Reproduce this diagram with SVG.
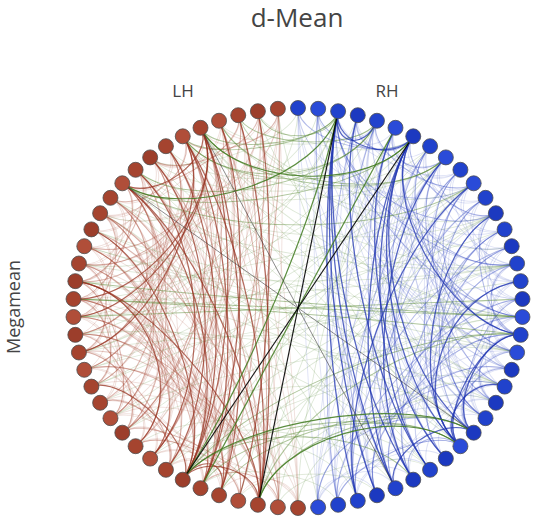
<svg xmlns="http://www.w3.org/2000/svg" width="534" height="520" viewBox="0 0 534 520">
<style>
text{font-family:"Open Sans","Liberation Sans",Arial,sans-serif;fill:#444}
.t{font-size:26px}
.h{font-size:17px}
.y{font-size:18px}
.e{fill:none}
.b1{stroke:#a3402b;stroke-opacity:.17;stroke-width:.0042}
.b2{stroke:#a3402b;stroke-opacity:.36;stroke-width:.0048}
.b3{stroke:#953220;stroke-opacity:.72;stroke-width:.0055}
.u1{stroke:#3348c0;stroke-opacity:.16;stroke-width:.0042}
.u2{stroke:#2a40c0;stroke-opacity:.36;stroke-width:.0048}
.u3{stroke:#1d33b0;stroke-opacity:.75;stroke-width:.0058}
.g1{stroke:#5c8a3a;stroke-opacity:.2;stroke-width:.0042}
.g2{stroke:#5a8a35;stroke-opacity:.48;stroke-width:.0048}
.g3{stroke:#3f7a1e;stroke-opacity:.85;stroke-width:.0055}
.gy{stroke:#333;stroke-opacity:.6;stroke-width:.004}
.k{stroke:#000;stroke-opacity:.9;stroke-width:.0052}
.lh{fill:#a5442f;stroke:#4d4d4d;stroke-width:.8}
.lh2{fill:#b04e39;stroke:#4d4d4d;stroke-width:.8}
.lh3{fill:#9c3e2b;stroke:#4d4d4d;stroke-width:.8}
.rh{fill:#2142cc;stroke:#4d4d4d;stroke-width:.8}
.rh2{fill:#2a4bd8;stroke:#4d4d4d;stroke-width:.8}
.rh3{fill:#1c39c0;stroke:#4d4d4d;stroke-width:.8}
</style>
<defs>
<path id="s1" d="M.999,-.0449C.8325,-.0374 .8325,.0374 .999,.0449"/>
<path id="s2" d="M.996,-.0896C.83,-.0747 .83,.0747 .996,.0896"/>
<path id="s3" d="M.991,-.1342C.8258,-.1119 .8258,.1119 .991,.1342"/>
<path id="s4" d="M.9839,-.1786C.8199,-.1488 .8199,.1488 .9839,.1786"/>
<path id="s5" d="M.9749,-.2225C.8124,-.1854 .8124,.1854 .9749,.2225"/>
<path id="s6" d="M.964,-.266C.8033,-.2217 .8033,.2217 .964,.266"/>
<path id="s7" d="M.9511,-.309C.7926,-.2575 .7926,.2575 .9511,.309"/>
<path id="s8" d="M.9362,-.3514C.7802,-.2928 .7802,.2928 .9362,.3514"/>
<path id="s9" d="M.9195,-.393C.613,-.262 .613,.262 .9195,.393"/>
<path id="s10" d="M.901,-.4339C.6007,-.2893 .6007,.2893 .901,.4339"/>
<path id="s11" d="M.8806,-.4739C.5871,-.3159 .5871,.3159 .8806,.4739"/>
<path id="s12" d="M.8585,-.5129C.5723,-.3419 .5723,.3419 .8585,.5129"/>
<path id="s13" d="M.8346,-.5509C.5564,-.3673 .5564,.3673 .8346,.5509"/>
<path id="s14" d="M.809,-.5878C.5394,-.3919 .5394,.3919 .809,.5878"/>
<path id="s15" d="M.7818,-.6235C.5212,-.4157 .5212,.4157 .7818,.6235"/>
<path id="s16" d="M.7531,-.6579C.5021,-.4386 .5021,.4386 .7531,.6579"/>
<path id="s17" d="M.7228,-.6911C.4819,-.4607 .4819,.4607 .7228,.6911"/>
<path id="s18" d="M.6911,-.7228C.3839,-.4016 .3839,.4016 .6911,.7228"/>
<path id="s19" d="M.6579,-.7531C.3655,-.4184 .3655,.4184 .6579,.7531"/>
<path id="s20" d="M.6235,-.7818C.3464,-.4344 .3464,.4344 .6235,.7818"/>
<path id="s21" d="M.5878,-.809C.3266,-.4495 .3266,.4495 .5878,.809"/>
<path id="s22" d="M.5509,-.8346C.3061,-.4637 .3061,.4637 .5509,.8346"/>
<path id="s23" d="M.5129,-.8585C.2849,-.4769 .2849,.4769 .5129,.8585"/>
<path id="s24" d="M.4739,-.8806C.2633,-.4892 .2633,.4892 .4739,.8806"/>
<path id="s25" d="M.4339,-.901C.241,-.5005 .241,.5005 .4339,.901"/>
<path id="s26" d="M.393,-.9195C.2184,-.5108 .2184,.5108 .393,.9195"/>
<path id="s27" d="M.3514,-.9362C.1673,-.4458 .1673,.4458 .3514,.9362"/>
<path id="s28" d="M.309,-.9511C.1472,-.4529 .1472,.4529 .309,.9511"/>
<path id="s29" d="M.266,-.964C.1267,-.459 .1267,.459 .266,.964"/>
<path id="s30" d="M.2225,-.9749C.106,-.4643 .106,.4643 .2225,.9749"/>
<path id="s31" d="M.1786,-.9839C.085,-.4685 .085,.4685 .1786,.9839"/>
<path id="s32" d="M.1342,-.991C.0639,-.4719 .0639,.4719 .1342,.991"/>
<path id="s33" d="M.0896,-.996C.0427,-.4743 .0427,.4743 .0896,.996"/>
<path id="s34" d="M.0449,-.999C.0214,-.4757 .0214,.4757 .0449,.999"/>
<path id="s35" d="M0,-1L0,1"/>
</defs>
<text class="t" x="297" y="27" text-anchor="middle">d-Mean</text>
<text class="h" x="183" y="97" text-anchor="middle">LH</text>
<text class="h" x="387" y="97" text-anchor="middle">RH</text>
<text class="y" transform="translate(19.5,307) rotate(-90)" text-anchor="middle">Megamean</text>
<g id="connectors" class="e" transform="translate(298,308) scale(224.7,-200)">
<g class="b1">
<use href="#s9" transform="rotate(118.29)"/><use href="#s14" transform="rotate(131.14)"/><use href="#s19" transform="rotate(144)"/><use href="#s24" transform="rotate(156.86)"/><use href="#s10" transform="rotate(126)"/><use href="#s16" transform="rotate(141.43)"/><use href="#s22" transform="rotate(156.86)"/><use href="#s33" transform="rotate(185.14)"/><use href="#s11" transform="rotate(133.71)"/><use href="#s17" transform="rotate(149.14)"/><use href="#s23" transform="rotate(164.57)"/><use href="#s5" transform="rotate(118.29)"/><use href="#s8" transform="rotate(131.14)"/><use href="#s15" transform="rotate(149.14)"/><use href="#s19" transform="rotate(159.43)"/><use href="#s31" transform="rotate(190.29)"/><use href="#s16" transform="rotate(156.86)"/><use href="#s29" transform="rotate(190.29)"/><use href="#s7" transform="rotate(138.86)"/><use href="#s12" transform="rotate(151.71)"/><use href="#s16" transform="rotate(162)"/><use href="#s29" transform="rotate(195.43)"/><use href="#s5" transform="rotate(138.86)"/><use href="#s9" transform="rotate(149.14)"/><use href="#s17" transform="rotate(169.71)"/><use href="#s27" transform="rotate(195.43)"/><use href="#s6" transform="rotate(146.57)"/><use href="#s14" transform="rotate(167.14)"/><use href="#s18" transform="rotate(177.43)"/><use href="#s22" transform="rotate(187.71)"/><use href="#s4" transform="rotate(146.57)"/><use href="#s11" transform="rotate(164.57)"/><use href="#s15" transform="rotate(174.86)"/><use href="#s25" transform="rotate(200.57)"/><use href="#s5" transform="rotate(154.29)"/><use href="#s9" transform="rotate(164.57)"/><use href="#s11" transform="rotate(169.71)"/><use href="#s17" transform="rotate(185.14)"/><use href="#s21" transform="rotate(195.43)"/><use href="#s5" transform="rotate(159.43)"/><use href="#s11" transform="rotate(174.86)"/><use href="#s15" transform="rotate(185.14)"/><use href="#s22" transform="rotate(203.14)"/><use href="#s4" transform="rotate(162)"/><use href="#s9" transform="rotate(174.86)"/><use href="#s15" transform="rotate(190.29)"/><use href="#s22" transform="rotate(208.29)"/><use href="#s4" transform="rotate(167.14)"/><use href="#s6" transform="rotate(172.29)"/><use href="#s11" transform="rotate(185.14)"/><use href="#s18" transform="rotate(203.14)"/><use href="#s4" transform="rotate(172.29)"/><use href="#s7" transform="rotate(180)"/><use href="#s16" transform="rotate(203.14)"/><use href="#s20" transform="rotate(213.43)"/><use href="#s3" transform="rotate(174.86)"/><use href="#s8" transform="rotate(187.71)"/><use href="#s12" transform="rotate(198)"/><use href="#s19" transform="rotate(216)"/><use href="#s4" transform="rotate(182.57)"/><use href="#s6" transform="rotate(187.71)"/><use href="#s13" transform="rotate(205.71)"/><use href="#s15" transform="rotate(210.86)"/><use href="#s3" transform="rotate(185.14)"/><use href="#s7" transform="rotate(195.43)"/><use href="#s15" transform="rotate(216)"/><use href="#s18" transform="rotate(223.71)"/><use href="#s4" transform="rotate(192.86)"/><use href="#s7" transform="rotate(200.57)"/><use href="#s13" transform="rotate(216)"/><use href="#s16" transform="rotate(223.71)"/><use href="#s4" transform="rotate(198)"/><use href="#s9" transform="rotate(210.86)"/><use href="#s11" transform="rotate(216)"/><use href="#s4" transform="rotate(203.14)"/><use href="#s6" transform="rotate(208.29)"/><use href="#s12" transform="rotate(223.71)"/><use href="#s4" transform="rotate(208.29)"/><use href="#s6" transform="rotate(213.43)"/><use href="#s13" transform="rotate(231.43)"/><use href="#s4" transform="rotate(213.43)"/><use href="#s8" transform="rotate(223.71)"/><use href="#s11" transform="rotate(231.43)"/><use href="#s4" transform="rotate(218.57)"/><use href="#s8" transform="rotate(228.86)"/><use href="#s4" transform="rotate(223.71)"/><use href="#s8" transform="rotate(234)"/><use href="#s4" transform="rotate(228.86)"/><use href="#s5" transform="rotate(231.43)"/><use href="#s4" transform="rotate(234)"/><use href="#s8" transform="rotate(244.29)"/><use href="#s4" transform="rotate(239.14)"/><use href="#s6" transform="rotate(244.29)"/><use href="#s4" transform="rotate(244.29)"/><use href="#s7" transform="rotate(252)"/><use href="#s4" transform="rotate(259.71)"/><use href="#s3" transform="rotate(262.29)"/><use href="#s3" transform="rotate(102.86)"/><use href="#s3" transform="rotate(108)"/><use href="#s4" transform="rotate(120.86)"/><use href="#s3" transform="rotate(123.43)"/><use href="#s3" transform="rotate(133.71)"/><use href="#s3" transform="rotate(138.86)"/><use href="#s3" transform="rotate(144)"/><use href="#s3" transform="rotate(154.29)"/><use href="#s3" transform="rotate(159.43)"/><use href="#s13" transform="rotate(133.71)"/><use href="#s14" transform="rotate(141.43)"/><use href="#s12" transform="rotate(141.43)"/><use href="#s14" transform="rotate(151.71)"/><use href="#s10" transform="rotate(146.57)"/><use href="#s11" transform="rotate(154.29)"/><use href="#s12" transform="rotate(162)"/><use href="#s13" transform="rotate(169.71)"/><use href="#s14" transform="rotate(177.43)"/><use href="#s14" transform="rotate(182.57)"/><use href="#s14" transform="rotate(187.71)"/><use href="#s14" transform="rotate(192.86)"/><use href="#s15" transform="rotate(200.57)"/><use href="#s14" transform="rotate(203.14)"/><use href="#s14" transform="rotate(208.29)"/><use href="#s14" transform="rotate(213.43)"/><use href="#s14" transform="rotate(218.57)"/><use href="#s13" transform="rotate(221.14)"/><use href="#s13" transform="rotate(226.29)"/><use href="#s12" transform="rotate(228.86)"/><use href="#s11" transform="rotate(236.57)"/><use href="#s11" transform="rotate(241.71)"/><use href="#s27" transform="rotate(164.57)"/><use href="#s26" transform="rotate(172.29)"/><use href="#s23" transform="rotate(169.71)"/><use href="#s22" transform="rotate(177.43)"/><use href="#s20" transform="rotate(177.43)"/><use href="#s21" transform="rotate(185.14)"/><use href="#s20" transform="rotate(187.71)"/><use href="#s21" transform="rotate(190.29)"/><use href="#s19" transform="rotate(195.43)"/><use href="#s19" transform="rotate(200.57)"/><use href="#s17" transform="rotate(200.57)"/><use href="#s24" transform="rotate(162)"/><use href="#s32" transform="rotate(177.43)"/>
</g>
<g class="u1">
<use href="#s30" transform="rotate(372.86)"/><use href="#s25" transform="rotate(385.71)"/><use href="#s20" transform="rotate(398.57)"/><use href="#s15" transform="rotate(411.43)"/><use href="#s10" transform="rotate(424.29)"/><use href="#s24" transform="rotate(383.14)"/><use href="#s19" transform="rotate(396)"/><use href="#s13" transform="rotate(411.43)"/><use href="#s9" transform="rotate(421.71)"/><use href="#s22" transform="rotate(383.14)"/><use href="#s19" transform="rotate(390.86)"/><use href="#s7" transform="rotate(421.71)"/><use href="#s20" transform="rotate(383.14)"/><use href="#s16" transform="rotate(393.43)"/><use href="#s10" transform="rotate(408.86)"/><use href="#s7" transform="rotate(416.57)"/><use href="#s22" transform="rotate(372.86)"/><use href="#s18" transform="rotate(383.14)"/><use href="#s13" transform="rotate(396)"/><use href="#s10" transform="rotate(403.71)"/><use href="#s19" transform="rotate(375.43)"/><use href="#s15" transform="rotate(385.71)"/><use href="#s11" transform="rotate(396)"/><use href="#s6" transform="rotate(408.86)"/><use href="#s17" transform="rotate(375.43)"/><use href="#s15" transform="rotate(380.57)"/><use href="#s3" transform="rotate(411.43)"/><use href="#s24" transform="rotate(352.29)"/><use href="#s17" transform="rotate(370.29)"/><use href="#s14" transform="rotate(378)"/><use href="#s8" transform="rotate(393.43)"/><use href="#s5" transform="rotate(401.14)"/><use href="#s18" transform="rotate(362.57)"/><use href="#s15" transform="rotate(370.29)"/><use href="#s9" transform="rotate(385.71)"/><use href="#s5" transform="rotate(396)"/><use href="#s24" transform="rotate(342)"/><use href="#s16" transform="rotate(362.57)"/><use href="#s10" transform="rotate(378)"/><use href="#s6" transform="rotate(388.29)"/><use href="#s19" transform="rotate(349.71)"/><use href="#s13" transform="rotate(365.14)"/><use href="#s6" transform="rotate(383.14)"/><use href="#s21" transform="rotate(339.43)"/><use href="#s16" transform="rotate(352.29)"/><use href="#s9" transform="rotate(370.29)"/><use href="#s6" transform="rotate(378)"/><use href="#s19" transform="rotate(339.43)"/><use href="#s12" transform="rotate(357.43)"/><use href="#s9" transform="rotate(365.14)"/><use href="#s4" transform="rotate(378)"/><use href="#s20" transform="rotate(331.71)"/><use href="#s14" transform="rotate(347.14)"/><use href="#s9" transform="rotate(360)"/><use href="#s5" transform="rotate(370.29)"/><use href="#s15" transform="rotate(339.43)"/><use href="#s9" transform="rotate(354.86)"/><use href="#s6" transform="rotate(362.57)"/><use href="#s19" transform="rotate(324)"/><use href="#s13" transform="rotate(339.43)"/><use href="#s6" transform="rotate(357.43)"/><use href="#s14" transform="rotate(331.71)"/><use href="#s8" transform="rotate(347.14)"/><use href="#s4" transform="rotate(357.43)"/><use href="#s12" transform="rotate(331.71)"/><use href="#s6" transform="rotate(347.14)"/><use href="#s4" transform="rotate(352.29)"/><use href="#s14" transform="rotate(321.43)"/><use href="#s8" transform="rotate(336.86)"/><use href="#s4" transform="rotate(347.14)"/><use href="#s14" transform="rotate(316.29)"/><use href="#s9" transform="rotate(329.14)"/><use href="#s11" transform="rotate(318.86)"/><use href="#s4" transform="rotate(336.86)"/><use href="#s13" transform="rotate(308.57)"/><use href="#s7" transform="rotate(324)"/><use href="#s8" transform="rotate(316.29)"/><use href="#s4" transform="rotate(326.57)"/><use href="#s9" transform="rotate(308.57)"/><use href="#s4" transform="rotate(321.43)"/><use href="#s10" transform="rotate(300.86)"/><use href="#s5" transform="rotate(313.71)"/><use href="#s7" transform="rotate(303.43)"/><use href="#s8" transform="rotate(295.71)"/><use href="#s6" transform="rotate(295.71)"/><use href="#s4" transform="rotate(295.71)"/><use href="#s5" transform="rotate(288)"/><use href="#s3" transform="rotate(288)"/><use href="#s3" transform="rotate(282.86)"/><use href="#s3" transform="rotate(437.14)"/><use href="#s3" transform="rotate(432)"/><use href="#s4" transform="rotate(424.29)"/><use href="#s4" transform="rotate(419.14)"/><use href="#s4" transform="rotate(414)"/><use href="#s3" transform="rotate(406.29)"/><use href="#s3" transform="rotate(401.14)"/><use href="#s3" transform="rotate(396)"/><use href="#s3" transform="rotate(390.86)"/><use href="#s3" transform="rotate(385.71)"/><use href="#s3" transform="rotate(380.57)"/><use href="#s3" transform="rotate(375.43)"/><use href="#s3" transform="rotate(370.29)"/><use href="#s3" transform="rotate(365.14)"/><use href="#s3" transform="rotate(360)"/><use href="#s3" transform="rotate(354.86)"/><use href="#s3" transform="rotate(349.71)"/><use href="#s3" transform="rotate(339.43)"/><use href="#s3" transform="rotate(334.29)"/><use href="#s3" transform="rotate(329.14)"/><use href="#s3" transform="rotate(324)"/><use href="#s17" transform="rotate(401.14)"/><use href="#s18" transform="rotate(393.43)"/><use href="#s18" transform="rotate(388.29)"/><use href="#s20" transform="rotate(378)"/><use href="#s21" transform="rotate(370.29)"/><use href="#s22" transform="rotate(357.43)"/><use href="#s22" transform="rotate(352.29)"/><use href="#s22" transform="rotate(347.14)"/><use href="#s24" transform="rotate(336.86)"/><use href="#s34" transform="rotate(362.57)"/><use href="#s32" transform="rotate(362.57)"/><use href="#s28" transform="rotate(362.57)"/><use href="#s29" transform="rotate(354.86)"/><use href="#s27" transform="rotate(354.86)"/><use href="#s28" transform="rotate(347.14)"/><use href="#s26" transform="rotate(347.14)"/><use href="#s26" transform="rotate(342)"/>
</g>
<g class="g1">
<use href="#s8" transform="rotate(439.71)"/><use href="#s13" transform="rotate(432)"/><use href="#s16" transform="rotate(429.43)"/><use href="#s20" transform="rotate(424.29)"/><use href="#s24" transform="rotate(419.14)"/><use href="#s29" transform="rotate(411.43)"/><use href="#s33" transform="rotate(406.29)"/><use href="#s33" transform="rotate(221.14)"/><use href="#s30" transform="rotate(218.57)"/><use href="#s27" transform="rotate(216)"/><use href="#s24" transform="rotate(213.43)"/><use href="#s31" transform="rotate(236.57)"/><use href="#s34" transform="rotate(434.57)"/><use href="#s30" transform="rotate(450)"/><use href="#s26" transform="rotate(465.43)"/><use href="#s23" transform="rotate(478.29)"/><use href="#s20" transform="rotate(491.14)"/><use href="#s19" transform="rotate(498.86)"/><use href="#s24" transform="rotate(491.14)"/><use href="#s29" transform="rotate(483.43)"/><use href="#s34" transform="rotate(475.71)"/><use href="#s31" transform="rotate(288)"/><use href="#s26" transform="rotate(280.29)"/><use href="#s21" transform="rotate(272.57)"/><use href="#s16" transform="rotate(264.86)"/><use href="#s13" transform="rotate(262.29)"/><use href="#s10" transform="rotate(259.71)"/><use href="#s7" transform="rotate(262.29)"/><use href="#s7" transform="rotate(272.57)"/><use href="#s8" transform="rotate(285.43)"/><use href="#s12" transform="rotate(300.86)"/><use href="#s21" transform="rotate(303.43)"/><use href="#s27" transform="rotate(303.43)"/><use href="#s31" transform="rotate(308.57)"/><use href="#s35" transform="rotate(308.57)"/><use href="#s31" transform="rotate(493.71)"/><use href="#s27" transform="rotate(493.71)"/><use href="#s22" transform="rotate(496.29)"/><use href="#s18" transform="rotate(480.86)"/><use href="#s13" transform="rotate(478.29)"/><use href="#s8" transform="rotate(470.57)"/><use href="#s11" transform="rotate(457.71)"/><use href="#s14" transform="rotate(444.86)"/><use href="#s22" transform="rotate(444.86)"/><use href="#s26" transform="rotate(439.71)"/><use href="#s31" transform="rotate(437.14)"/><use href="#s34" transform="rotate(249.43)"/><use href="#s29" transform="rotate(246.86)"/><use href="#s24" transform="rotate(244.29)"/><use href="#s28" transform="rotate(259.71)"/><use href="#s30" transform="rotate(270)"/><use href="#s32" transform="rotate(280.29)"/><use href="#s32" transform="rotate(455.14)"/><use href="#s31" transform="rotate(462.86)"/><use href="#s19" transform="rotate(288)"/><use href="#s26" transform="rotate(306)"/><use href="#s15" transform="rotate(298.29)"/><use href="#s25" transform="rotate(324)"/><use href="#s22" transform="rotate(300.86)"/><use href="#s33" transform="rotate(324)"/><use href="#s31" transform="rotate(339.43)"/><use href="#s27" transform="rotate(406.29)"/><use href="#s23" transform="rotate(416.57)"/><use href="#s31" transform="rotate(401.14)"/><use href="#s28" transform="rotate(429.43)"/><use href="#s24" transform="rotate(434.57)"/><use href="#s27" transform="rotate(385.71)"/><use href="#s22" transform="rotate(403.71)"/><use href="#s17" transform="rotate(421.71)"/><use href="#s8" transform="rotate(450)"/><use href="#s26" transform="rotate(331.71)"/><use href="#s30" transform="rotate(347.14)"/><use href="#s34" transform="rotate(527.14)"/><use href="#s17" transform="rotate(452.57)"/><use href="#s15" transform="rotate(452.57)"/><use href="#s9" transform="rotate(452.57)"/>
</g>
<g class="b2">
<use href="#s29" transform="rotate(169.71)"/><use href="#s27" transform="rotate(169.71)"/><use href="#s28" transform="rotate(177.43)"/><use href="#s24" transform="rotate(172.29)"/><use href="#s29" transform="rotate(185.14)"/><use href="#s22" transform="rotate(172.29)"/><use href="#s20" transform="rotate(167.14)"/><use href="#s21" transform="rotate(174.86)"/><use href="#s19" transform="rotate(169.71)"/><use href="#s24" transform="rotate(187.71)"/><use href="#s25" transform="rotate(195.43)"/><use href="#s22" transform="rotate(192.86)"/><use href="#s15" transform="rotate(180)"/><use href="#s18" transform="rotate(192.86)"/><use href="#s18" transform="rotate(198)"/><use href="#s20" transform="rotate(208.29)"/><use href="#s14" transform="rotate(198)"/><use href="#s16" transform="rotate(208.29)"/><use href="#s8" transform="rotate(192.86)"/><use href="#s10" transform="rotate(203.14)"/><use href="#s13" transform="rotate(210.86)"/><use href="#s11" transform="rotate(210.86)"/><use href="#s14" transform="rotate(223.71)"/><use href="#s8" transform="rotate(213.43)"/><use href="#s10" transform="rotate(223.71)"/><use href="#s9" transform="rotate(138.86)"/><use href="#s9" transform="rotate(144)"/><use href="#s7" transform="rotate(154.29)"/><use href="#s7" transform="rotate(159.43)"/><use href="#s11" transform="rotate(159.43)"/><use href="#s14" transform="rotate(162)"/><use href="#s13" transform="rotate(174.86)"/><use href="#s12" transform="rotate(182.57)"/><use href="#s12" transform="rotate(192.86)"/><use href="#s11" transform="rotate(200.57)"/><use href="#s9" transform="rotate(169.71)"/><use href="#s7" transform="rotate(123.43)"/><use href="#s6" transform="rotate(115.71)"/><use href="#s5" transform="rotate(108)"/><use href="#s4" transform="rotate(254.57)"/><use href="#s8" transform="rotate(239.14)"/><use href="#s6" transform="rotate(239.14)"/><use href="#s5" transform="rotate(190.29)"/><use href="#s6" transform="rotate(167.14)"/><use href="#s5" transform="rotate(133.71)"/><use href="#s5" transform="rotate(180)"/><use href="#s6" transform="rotate(203.14)"/><use href="#s5" transform="rotate(221.14)"/>
</g>
<g class="u2">
<use href="#s29" transform="rotate(370.29)"/><use href="#s30" transform="rotate(357.43)"/><use href="#s27" transform="rotate(360)"/><use href="#s24" transform="rotate(362.57)"/><use href="#s20" transform="rotate(362.57)"/><use href="#s24" transform="rotate(347.14)"/><use href="#s19" transform="rotate(354.86)"/><use href="#s16" transform="rotate(357.43)"/><use href="#s19" transform="rotate(344.57)"/><use href="#s16" transform="rotate(342)"/><use href="#s12" transform="rotate(347.14)"/><use href="#s9" transform="rotate(349.71)"/><use href="#s8" transform="rotate(342)"/><use href="#s9" transform="rotate(334.29)"/><use href="#s11" transform="rotate(324)"/><use href="#s6" transform="rotate(331.71)"/><use href="#s10" transform="rotate(316.29)"/><use href="#s10" transform="rotate(311.14)"/><use href="#s10" transform="rotate(414)"/><use href="#s13" transform="rotate(406.29)"/><use href="#s16" transform="rotate(398.57)"/><use href="#s12" transform="rotate(388.29)"/><use href="#s9" transform="rotate(396)"/><use href="#s6" transform="rotate(403.71)"/><use href="#s12" transform="rotate(383.14)"/><use href="#s12" transform="rotate(378)"/><use href="#s13" transform="rotate(370.29)"/><use href="#s6" transform="rotate(414)"/><use href="#s3" transform="rotate(416.57)"/><use href="#s5" transform="rotate(432)"/><use href="#s6" transform="rotate(434.57)"/><use href="#s3" transform="rotate(426.86)"/><use href="#s4" transform="rotate(342)"/><use href="#s4" transform="rotate(362.57)"/><use href="#s7" transform="rotate(370.29)"/><use href="#s4" transform="rotate(331.71)"/><use href="#s3" transform="rotate(308.57)"/><use href="#s7" transform="rotate(298.29)"/><use href="#s9" transform="rotate(298.29)"/><use href="#s9" transform="rotate(375.43)"/><use href="#s12" transform="rotate(352.29)"/><use href="#s13" transform="rotate(360)"/><use href="#s18" transform="rotate(331.71)"/><use href="#s15" transform="rotate(329.14)"/><use href="#s16" transform="rotate(321.43)"/>
</g>
<g class="g2">
<use href="#s7" transform="rotate(457.71)"/><use href="#s12" transform="rotate(450)"/><use href="#s8" transform="rotate(460.29)"/><use href="#s16" transform="rotate(460.29)"/><use href="#s13" transform="rotate(462.86)"/><use href="#s13" transform="rotate(442.29)"/><use href="#s35" transform="rotate(267.43)"/><use href="#s34" transform="rotate(264.86)"/><use href="#s35" transform="rotate(272.57)"/><use href="#s34" transform="rotate(444.86)"/><use href="#s15" transform="rotate(277.71)"/><use href="#s22" transform="rotate(295.71)"/><use href="#s12" transform="rotate(290.57)"/><use href="#s18" transform="rotate(306)"/><use href="#s14" transform="rotate(280.29)"/><use href="#s12" transform="rotate(270)"/><use href="#s14" transform="rotate(285.43)"/><use href="#s4" transform="rotate(450)"/><use href="#s7" transform="rotate(447.43)"/><use href="#s12" transform="rotate(439.71)"/><use href="#s20" transform="rotate(450)"/><use href="#s10" transform="rotate(455.14)"/>
</g>
<g class="b3">
<use href="#s24" transform="rotate(177.43)"/><use href="#s26" transform="rotate(182.57)"/><use href="#s24" transform="rotate(182.57)"/><use href="#s27" transform="rotate(190.29)"/><use href="#s30" transform="rotate(182.57)"/><use href="#s30" transform="rotate(177.43)"/><use href="#s19" transform="rotate(190.29)"/><use href="#s18" transform="rotate(182.57)"/><use href="#s12" transform="rotate(146.57)"/><use href="#s17" transform="rotate(216)"/><use href="#s13" transform="rotate(149.14)"/><use href="#s14" transform="rotate(156.86)"/><use href="#s23" transform="rotate(200.57)"/><use href="#s22" transform="rotate(182.57)"/><use href="#s16" transform="rotate(198)"/><use href="#s4" transform="rotate(249.43)"/><use href="#s2" transform="rotate(244.29)"/><use href="#s10" transform="rotate(198)"/><use href="#s26" transform="rotate(177.43)"/><use href="#s20" transform="rotate(182.57)"/><use href="#s5" transform="rotate(128.57)"/><use href="#s7" transform="rotate(221.14)"/>
</g>
<g class="u3">
<use href="#s30" transform="rotate(362.57)"/><use href="#s29" transform="rotate(365.14)"/><use href="#s27" transform="rotate(370.29)"/><use href="#s28" transform="rotate(367.71)"/><use href="#s24" transform="rotate(357.43)"/><use href="#s22" transform="rotate(362.57)"/><use href="#s20" transform="rotate(367.71)"/><use href="#s19" transform="rotate(370.29)"/><use href="#s4" transform="rotate(429.43)"/><use href="#s2" transform="rotate(434.57)"/><use href="#s7" transform="rotate(334.29)"/><use href="#s6" transform="rotate(336.86)"/><use href="#s13" transform="rotate(385.71)"/><use href="#s14" transform="rotate(352.29)"/><use href="#s21" transform="rotate(354.86)"/><use href="#s22" transform="rotate(367.71)"/><use href="#s25" transform="rotate(370.29)"/><use href="#s4" transform="rotate(326.57)"/><use href="#s5" transform="rotate(308.57)"/><use href="#s10" transform="rotate(342)"/><use href="#s22" transform="rotate(342)"/>
</g>
<g class="g3">
<use href="#s31" transform="rotate(519.43)"/><use href="#s35" transform="rotate(334.29)"/><use href="#s11" transform="rotate(447.43)"/><use href="#s12" transform="rotate(470.57)"/><use href="#s16" transform="rotate(280.29)"/><use href="#s11" transform="rotate(288)"/>
</g>
<g class="gy">
<use href="#s35" transform="rotate(231.43)"/><use href="#s35" transform="rotate(205.71)"/>
</g>
<g class="k">
<use href="#s35" transform="rotate(349.71)"/><use href="#s35" transform="rotate(329.14)"/>
</g>
</g>
<g id="nodes">
<g id="n0"><circle class="rh" cx="298" cy="108" r="7.5"/></g>
<g id="n1"><circle class="lh" cx="277.86" cy="108.81" r="7.5"/></g>
<g id="n2"><circle class="lh3" cx="257.88" cy="111.21" r="7.5"/></g>
<g id="n3"><circle class="lh" cx="238.23" cy="115.21" r="7.5"/></g>
<g id="n4"><circle class="lh2" cx="219.05" cy="120.75" r="7.5"/></g>
<g id="n5"><circle class="lh" cx="200.51" cy="127.81" r="7.5"/></g>
<g id="n6"><circle class="lh2" cx="182.75" cy="136.31" r="7.5"/></g>
<g id="n7"><circle class="lh" cx="165.92" cy="146.2" r="7.5"/></g>
<g id="n8"><circle class="lh3" cx="150.16" cy="157.39" r="7.5"/></g>
<g id="n9"><circle class="lh" cx="135.59" cy="169.79" r="7.5"/></g>
<g id="n10"><circle class="lh2" cx="122.32" cy="183.3" r="7.5"/></g>
<g id="n11"><circle class="lh" cx="110.47" cy="197.82" r="7.5"/></g>
<g id="n12"><circle class="lh" cx="100.13" cy="213.23" r="7.5"/></g>
<g id="n13"><circle class="lh3" cx="91.39" cy="229.39" r="7.5"/></g>
<g id="n14"><circle class="lh2" cx="84.3" cy="246.2" r="7.5"/></g>
<g id="n15"><circle class="lh" cx="78.93" cy="263.5" r="7.5"/></g>
<g id="n16"><circle class="lh3" cx="75.33" cy="281.15" r="7.5"/></g>
<g id="n17"><circle class="lh" cx="73.53" cy="299.03" r="7.5"/></g>
<g id="n18"><circle class="lh2" cx="73.53" cy="316.97" r="7.5"/></g>
<g id="n19"><circle class="lh3" cx="75.33" cy="334.85" r="7.5"/></g>
<g id="n20"><circle class="lh" cx="78.93" cy="352.5" r="7.5"/></g>
<g id="n21"><circle class="lh2" cx="84.3" cy="369.8" r="7.5"/></g>
<g id="n22"><circle class="lh" cx="91.39" cy="386.61" r="7.5"/></g>
<g id="n23"><circle class="lh" cx="100.13" cy="402.77" r="7.5"/></g>
<g id="n24"><circle class="lh2" cx="110.47" cy="418.18" r="7.5"/></g>
<g id="n25"><circle class="lh3" cx="122.32" cy="432.7" r="7.5"/></g>
<g id="n26"><circle class="lh" cx="135.59" cy="446.21" r="7.5"/></g>
<g id="n27"><circle class="lh2" cx="150.16" cy="458.61" r="7.5"/></g>
<g id="n28"><circle class="lh" cx="165.92" cy="469.8" r="7.5"/></g>
<g id="n29"><circle class="lh3" cx="182.75" cy="479.69" r="7.5"/></g>
<g id="n30"><circle class="lh" cx="200.51" cy="488.19" r="7.5"/></g>
<g id="n31"><circle class="lh" cx="219.05" cy="495.25" r="7.5"/></g>
<g id="n32"><circle class="lh2" cx="238.23" cy="500.79" r="7.5"/></g>
<g id="n33"><circle class="lh" cx="257.88" cy="504.79" r="7.5"/></g>
<g id="n34"><circle class="lh2" cx="277.86" cy="507.19" r="7.5"/></g>
<g id="n35"><circle class="lh" cx="298" cy="508" r="7.5"/></g>
<g id="n36"><circle class="rh2" cx="318.14" cy="507.19" r="7.5"/></g>
<g id="n37"><circle class="rh" cx="338.12" cy="504.79" r="7.5"/></g>
<g id="n38"><circle class="rh" cx="357.77" cy="500.79" r="7.5"/></g>
<g id="n39"><circle class="rh3" cx="376.95" cy="495.25" r="7.5"/></g>
<g id="n40"><circle class="rh" cx="395.49" cy="488.19" r="7.5"/></g>
<g id="n41"><circle class="rh3" cx="413.25" cy="479.69" r="7.5"/></g>
<g id="n42"><circle class="rh" cx="430.08" cy="469.8" r="7.5"/></g>
<g id="n43"><circle class="rh3" cx="445.84" cy="458.61" r="7.5"/></g>
<g id="n44"><circle class="rh2" cx="460.41" cy="446.21" r="7.5"/></g>
<g id="n45"><circle class="rh3" cx="473.68" cy="432.7" r="7.5"/></g>
<g id="n46"><circle class="rh" cx="485.53" cy="418.18" r="7.5"/></g>
<g id="n47"><circle class="rh3" cx="495.87" cy="402.77" r="7.5"/></g>
<g id="n48"><circle class="rh" cx="504.61" cy="386.61" r="7.5"/></g>
<g id="n49"><circle class="rh3" cx="511.7" cy="369.8" r="7.5"/></g>
<g id="n50"><circle class="rh2" cx="517.07" cy="352.5" r="7.5"/></g>
<g id="n51"><circle class="rh" cx="520.67" cy="334.85" r="7.5"/></g>
<g id="n52"><circle class="rh2" cx="522.47" cy="316.97" r="7.5"/></g>
<g id="n53"><circle class="rh3" cx="522.47" cy="299.03" r="7.5"/></g>
<g id="n54"><circle class="rh" cx="520.67" cy="281.15" r="7.5"/></g>
<g id="n55"><circle class="rh" cx="517.07" cy="263.5" r="7.5"/></g>
<g id="n56"><circle class="rh3" cx="511.7" cy="246.2" r="7.5"/></g>
<g id="n57"><circle class="rh" cx="504.61" cy="229.39" r="7.5"/></g>
<g id="n58"><circle class="rh3" cx="495.87" cy="213.23" r="7.5"/></g>
<g id="n59"><circle class="rh" cx="485.53" cy="197.82" r="7.5"/></g>
<g id="n60"><circle class="rh2" cx="473.68" cy="183.3" r="7.5"/></g>
<g id="n61"><circle class="rh" cx="460.41" cy="169.79" r="7.5"/></g>
<g id="n62"><circle class="rh2" cx="445.84" cy="157.39" r="7.5"/></g>
<g id="n63"><circle class="rh" cx="430.08" cy="146.2" r="7.5"/></g>
<g id="n64"><circle class="rh3" cx="413.25" cy="136.31" r="7.5"/></g>
<g id="n65"><circle class="rh2" cx="395.49" cy="127.81" r="7.5"/></g>
<g id="n66"><circle class="rh" cx="376.95" cy="120.75" r="7.5"/></g>
<g id="n67"><circle class="rh3" cx="357.77" cy="115.21" r="7.5"/></g>
<g id="n68"><circle class="rh" cx="338.12" cy="111.21" r="7.5"/></g>
<g id="n69"><circle class="rh2" cx="318.14" cy="108.81" r="7.5"/></g>
</g>
</svg>
